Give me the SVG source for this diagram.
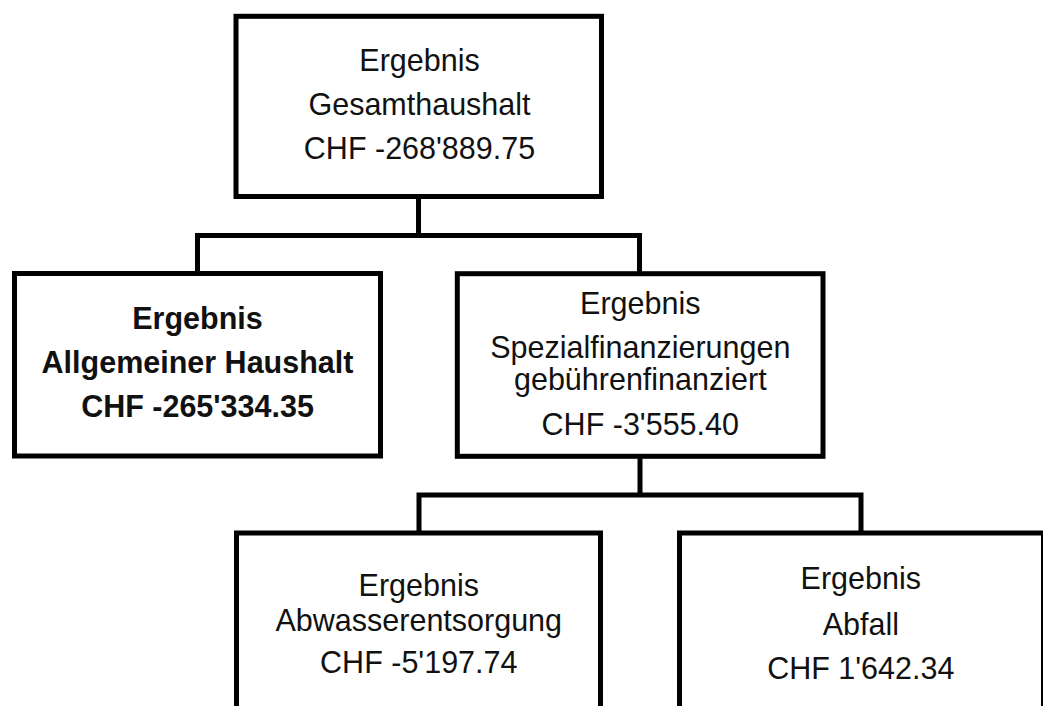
<svg xmlns="http://www.w3.org/2000/svg" width="1043" height="706" viewBox="0 0 1043 706">
<style>
.box{fill:#fff;stroke:#000;stroke-width:5}
.con{fill:none;stroke:#000;stroke-width:5;stroke-linejoin:miter}
text{font-family:"Liberation Sans",Arial,sans-serif;font-size:30.5px;fill:#111;text-anchor:middle}
.b{font-weight:bold}
</style>
<rect width="1043" height="706" fill="#fff"/>
<g id="connectors">
<path class="con" d="M418.5 196.5 V235.5"/>
<path class="con" d="M197.5 273.5 V235.5 H639.5 V273.7"/>
<path class="con" d="M640 456.3 V495"/>
<path class="con" d="M419 533 V495 H861 V533"/>
</g>
<g id="n-gesamt">
<rect class="box" x="236" y="16.3" width="365.5" height="180.2"/>
<text x="419.5" y="71">Ergebnis</text>
<text x="419.5" y="115">Gesamthaushalt</text>
<text x="419.5" y="159.3">CHF -268'889.75</text>
</g>
<g id="n-allgemein">
<rect class="box" x="14.5" y="273.5" width="366" height="182.5"/>
<text class="b" x="197.5" y="329.3">Ergebnis</text>
<text class="b" x="197.5" y="373.3">Allgemeiner Haushalt</text>
<text class="b" x="197.5" y="417.3">CHF -265'334.35</text>
</g>
<g id="n-spezial">
<rect class="box" x="457.3" y="273.7" width="365.7" height="182.6"/>
<text x="640.3" y="314">Ergebnis</text>
<text x="640.3" y="358.3">Spezialfinanzierungen</text>
<text x="640.3" y="390">gebührenfinanziert</text>
<text x="640.3" y="435">CHF -3'555.40</text>
</g>
<g id="n-abwasser">
<rect class="box" x="236.5" y="533" width="364" height="250"/>
<text x="418.8" y="596">Ergebnis</text>
<text x="418.8" y="631">Abwasserentsorgung</text>
<text x="418.8" y="673.3">CHF -5'197.74</text>
</g>
<g id="n-abfall">
<rect class="box" x="679.5" y="533" width="364" height="250"/>
<text x="860.8" y="589.3">Ergebnis</text>
<text x="860.8" y="635">Abfall</text>
<text x="860.8" y="679">CHF 1'642.34</text>
</g>
</svg>
